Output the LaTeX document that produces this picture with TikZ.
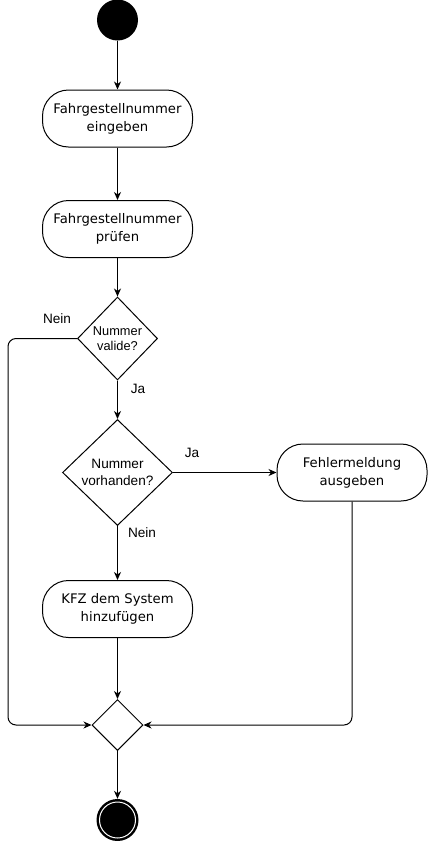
\documentclass[tikz,border=0pt]{standalone}
\usepackage{fontspec}
\setmainfont{DejaVu Sans}
\newfontfamily\arialf{Liberation Sans}
\usetikzlibrary{shapes.geometric,arrows.meta}
\begin{document}
\begin{tikzpicture}[x=1pt,y=-1pt,
  act/.style={draw, rounded corners=26pt, minimum width=150pt, minimum height=57pt, align=center, font=\fontsize{13.2}{18}\selectfont, inner sep=0pt, line width=1pt},
  dec/.style={draw, diamond, inner sep=0pt, align=center, line width=1pt},
  lbl/.style={font=\arialf\fontsize{13.6}{16}\selectfont, inner sep=0pt},
  arr/.style={-{Stealth[length=8pt,width=7pt,inset=2.5pt]}, line width=1pt}]
\useasboundingbox (0,0) rectangle (428,841);
\node[circle, fill=black, minimum size=41pt, inner sep=0pt] (start) at (117.5,20) {};
\node[act] (b1) at (117.5,118.5) {Fahrgestellnummer\\eingeben};
\node[act] (b2) at (117.5,229) {Fahrgestellnummer\\prüfen};
\node[dec, minimum width=80pt, minimum height=83pt, font=\arialf\fontsize{12.8}{15}\selectfont] (d1) at (117.5,338.5) {Nummer\\valide?};
\node[dec, minimum width=110pt, minimum height=106pt, font=\arialf\fontsize{13.6}{17}\selectfont] (d2) at (117.5,472.5) {Nummer\\vorhanden?};
\node[act] (b3) at (352,472.5) {Fehlermeldung\\ausgeben};
\node[act] (b4) at (117.5,609) {KFZ dem System\\hinzufügen};
\node[dec, minimum width=51pt, minimum height=51pt] (m) at (117.5,725) {};
\node[circle, fill=black, minimum size=42pt, inner sep=0pt] (end) at (117.5,820) {};
\draw[white, line width=1pt] (end.center) circle (18pt);
\coordinate (lc) at (8,338.5);
\draw[arr] (start) -- (b1);
\draw[arr] (b1) -- (b2);
\draw[arr] (b2) -- (d1);
\draw[arr] (d1) -- (d2);
\draw[arr, rounded corners=8pt] (d1.west) -- (lc) |- (m.west);
\draw[arr] (d2.east) -- (b3.west);
\draw[arr] (d2) -- (b4);
\draw[arr] (b4) -- (m);
\draw[arr, rounded corners=8pt] (b3.south) |- (m.east);
\draw[arr] (m) -- (end);
\node[lbl] (l1) at (57,319) {Nein};
\node[lbl] (l2) at (138,389) {Ja};
\node[lbl] (l3) at (192,453) {Ja};
\node[lbl] (l4) at (142,533) {Nein};
\end{tikzpicture}
\end{document}
